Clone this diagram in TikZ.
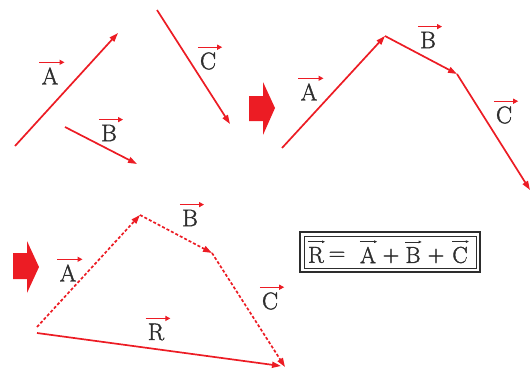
\documentclass[tikz,border=0pt]{standalone}
\usepackage{fontspec}
\newfontfamily\labfont[FakeBold=1.5]{Latin Modern Roman}
\usetikzlibrary{arrows.meta}
\definecolor{vred}{RGB}{236,28,36}
\definecolor{ink}{RGB}{45,45,45}
\tikzset{
 vec/.style={draw=vred, line width=1.7pt, -{Triangle[length=9pt,width=6pt]}},
 dvec/.style={vec, dash pattern=on 3pt off 2pt},
 lab/.style={inner sep=0pt, font=\labfont\fontsize{24}{28}\selectfont, text=ink},
 eqlab/.style={inner sep=0pt, font=\labfont\fontsize{23}{26}\selectfont, text=ink},
 labarr/.style={draw=vred, line width=1.4pt, -{Triangle[length=5pt,width=5pt]}},
 eqarr/.style={draw=ink, line width=0.7pt, -{Triangle[length=3pt,width=2.5pt]}},
 bigarr/.style={fill=vred, draw=none},
 frameout/.style={draw=ink, line width=2pt},
 framein/.style={draw=ink, line width=0.9pt}
}
\newcommand\vlab[3]{\node[lab] (#1) at #2 {#3};
 \draw[labarr] ([xshift=-2pt,yshift=5pt]#1.north west) -- ([xshift=6pt,yshift=5pt]#1.north east);}
\newcommand\elab[3]{\node[eqlab] (#1) at #2 {#3};
 \draw[eqarr] ([xshift=0pt,yshift=5pt]#1.north west) -- ([xshift=1pt,yshift=5pt]#1.north east);}
\begin{document}
\begin{tikzpicture}[x=1pt,y=-1pt]
\useasboundingbox (0,0) rectangle (531,372);
% ---- panel 1 ----
\coordinate (a1s) at (15,146); \coordinate (a1e) at (118,33);
\coordinate (b1s) at (65,127); \coordinate (b1e) at (137,164);
\coordinate (c1s) at (157,10); \coordinate (c1e) at (230,124);
\draw[vec] (a1s) -- (a1e);
\draw[vec] (b1s) -- (b1e);
\draw[vec] (c1s) -- (c1e);
\vlab{la1}{(50,76)}{A}
\vlab{lb1}{(109,133)}{B}
\vlab{lc1}{(208,61)}{C}
% big arrow 1
\fill[bigarr] (249,96) -- (263,96) -- (263,82) -- (275,108) -- (263,135) -- (263,121) -- (249,121) -- cycle;
% ---- panel 2 ----
\coordinate (p0) at (282,148); \coordinate (p1) at (385,36);
\coordinate (p2) at (457,74); \coordinate (p3) at (530,190);
\draw[vec] (p0) -- (p1);
\draw[vec] (p1) -- (p2);
\draw[vec] (p2) -- (p3);
\vlab{la2}{(309,92)}{A}
\vlab{lb2}{(428,40)}{B}
\vlab{lc2}{(504,115)}{C}
% big arrow 2
\fill[bigarr] (13,253) -- (27,253) -- (27,241) -- (39,267) -- (27,293) -- (27,279) -- (13,279) -- cycle;
% ---- panel 3 ----
\coordinate (q0) at (37,327); \coordinate (q1) at (140,215);
\coordinate (q2) at (212,253); \coordinate (q3) at (285,367);
\coordinate (r0) at (37,333); \coordinate (r1) at (281,366);
\draw[dvec] (q0) -- (q1);
\draw[dvec] (q1) -- (q2);
\draw[dvec] (q2) -- (q3);
\draw[vec] (r0) -- (r1);
\vlab{la3}{(68,273)}{A}
\vlab{lb3}{(190,218)}{B}
\vlab{lc3}{(270,301)}{C}
\vlab{lr3}{(156,332)}{R}
% ---- equation box ----
\draw[frameout] (300,232) rectangle (480,272);
\draw[framein] (304,236) rectangle (476,268);
\elab{er}{(316,255)}{R}
\node[eqlab] (eq1) at (337,256) {=};
\elab{ea}{(368,255)}{A}
\node[eqlab] (ep1) at (391,256) {+};
\elab{eb}{(413,255)}{B}
\node[eqlab] (ep2) at (436,256) {+};
\elab{ec}{(460,255)}{C}
\end{tikzpicture}
\end{document}
